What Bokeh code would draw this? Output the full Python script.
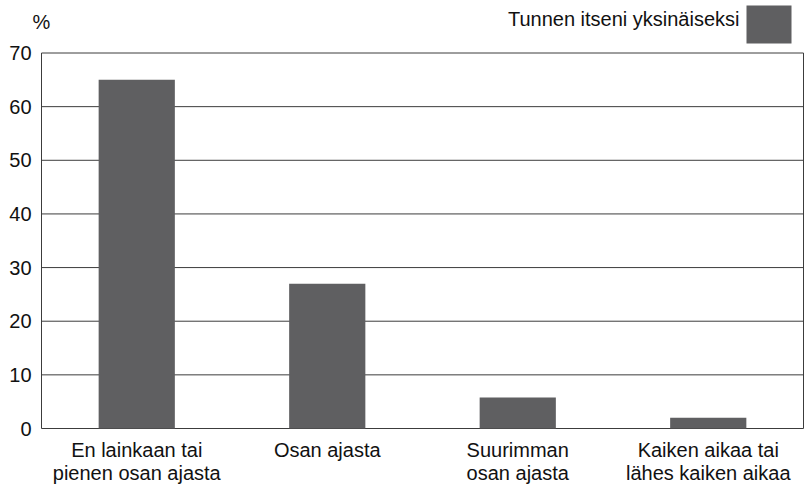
from bokeh.plotting import figure
from bokeh.models import Range1d, Label, BoxAnnotation, FixedTicker
from bokeh.core.properties import value
from bokeh.embed import file_html
from bokeh.resources import INLINE

categories = ["En lainkaan tai\npienen osan ajasta", "Osan ajasta",
              "Suurimman\nosan ajasta", "Kaiken aikaa tai\nlähes kaiken aikaa"]
values = [65, 27, 5.8, 2]
series_name = "Tunnen itseni yksinäiseksi"
y_ticks = [0, 10, 20, 30, 40, 50, 60, 70]
y_tick_labels = ["0", "10", "20", "30", "40", "50", "60", "70"]
y_unit = "%"
y_max = 70

FONT = "Liberation Sans"
FS = "20px"
BAR = "#5f5f61"
LINE = "#3c3c3c"
TXT = "#111111"

# layout (pixels)
FRAME_W = 806
BOX_BOTTOM = 428                     # canvas y of value 0
BELOW = 8                            # frame extends this far below value 0
FRAME_H = BOX_BOTTOM + BELOW
LEFT_PAD, RIGHT_PAD = 41, 3
PLOT_H = 375.5                       # height of the 0..70 box
n = len(categories)
unit_px = (FRAME_W - LEFT_PAD - RIGHT_PAD) / n
ppu = PLOT_H / y_max
x_start = -LEFT_PAD / unit_px
x_end = n + RIGHT_PAD / unit_px
y_start = -BELOW / ppu
y_top = BOX_BOTTOM / ppu

xs = [i + 0.5 for i in range(n)]

p = figure(frame_width=FRAME_W, frame_height=FRAME_H,
           x_range=Range1d(x_start, x_end), y_range=Range1d(y_start, y_top),
           y_axis_location=None, output_backend="svg", toolbar_location=None,
           min_border=0, min_border_bottom=485 - FRAME_H)
p.grid.visible = False
p.outline_line_color = None

# horizontal grid lines and box sides
p.segment(x0=0, x1=n, y0=y_ticks, y1=y_ticks, line_color=LINE, line_width=1)
p.segment(x0=[0, n], x1=[0, n], y0=[0, 0], y1=[y_max, y_max], line_color=LINE, line_width=1)

p.vbar(x=xs, top=values, width=0.4, fill_color=BAR, line_color=None)

# value-axis tick labels
p.text(x=[0] * len(y_ticks), y=y_ticks, text=y_tick_labels, x_offset=-10,
       text_align="right", text_baseline="middle", text_font=value(FONT),
       text_font_size=value(FS), text_color=TXT)

# category axis
ax = p.xaxis[0]
ax.ticker = FixedTicker(ticks=xs)
ax.major_label_overrides = {x: c for x, c in zip(xs, categories)}
ax.axis_line_color = None
ax.major_tick_line_color = None
ax.minor_tick_line_color = None
ax.major_label_text_font = FONT
ax.major_label_text_font_size = FS
ax.major_label_text_color = TXT
ax.major_label_standoff = 4 - BELOW
ax.major_label_text_line_height = 1.05

# unit label and legend (screen units measured from the frame's bottom-left)
p.add_layout(Label(x=32, y=BELOW + 406.5, x_units="screen", y_units="screen", text=y_unit,
                   text_baseline="alphabetic", text_font=FONT, text_font_size=FS,
                   text_color=TXT))
p.add_layout(Label(x=739, y=BELOW + 410, x_units="screen", y_units="screen", text=series_name,
                   text_align="right", text_baseline="alphabetic", text_font=FONT,
                   text_font_size=FS, text_color=TXT))
p.add_layout(BoxAnnotation(left=746, right=791, top=BELOW + 423, bottom=BELOW + 385,
                           left_units="screen", right_units="screen",
                           top_units="screen", bottom_units="screen",
                           fill_color=BAR, fill_alpha=1, line_color=None))

open("out.html", "w").write(file_html(p, INLINE))
